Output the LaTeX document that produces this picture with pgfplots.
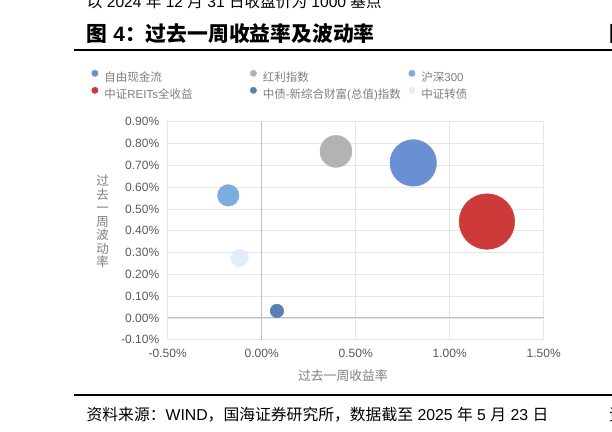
\documentclass[border=0pt]{standalone}
\usepackage{fontspec}
\usepackage{pgfplots}
\pgfplotsset{compat=1.18}
\setmainfont{Liberation Sans}
\newfontfamily\cjk{Noto Sans CJK SC}

\definecolor{cFCF}{HTML}{6B8FD3}
\definecolor{cDiv}{HTML}{B3B3B3}
\definecolor{cHS}{HTML}{7BAEDF}
\definecolor{cREIT}{HTML}{CD3A3A}
\definecolor{cBond}{HTML}{5781B0}
\definecolor{cCB}{HTML}{E2EDF8}
\definecolor{gridgray}{HTML}{E6E6E6}
\definecolor{zerogray}{HTML}{BFBFBF}
\definecolor{tickgray}{HTML}{595959}
\definecolor{labgray}{HTML}{7F7F7F}

% legend text box: fixed column width plus a strut
\newcommand{\legtxt}[2][145.6bp]{\makebox[#1][l]{\rule[-3bp]{0pt}{12bp}#2}}

\begin{document}
\begin{tikzpicture}
\useasboundingbox (0,0) rectangle (612bp,432bp);
\fill[white] (0,0) rectangle (612bp,432bp);
\clip (0,0) rectangle (612bp,432bp);

% page text above the chart
\node[anchor=base west,inner sep=0,font=\fontsize{15.6bp}{17bp}\selectfont] at (86.7bp,424bp)
  {{\cjk 以} 2024 {\cjk 年} 12 {\cjk 月} 31 {\cjk 日收盘价为} 1000 {\cjk 基点}};
\node[anchor=base west,inner sep=0,font=\fontsize{20.8bp}{22bp}\selectfont\bfseries] at (86.7bp,390.5bp)
  {{\cjk 图} 4{\cjk ：过去一周收益率及波动率}};
\node[anchor=base west,inner sep=0,font=\fontsize{20.8bp}{22bp}\selectfont\bfseries\cjk] at (609bp,390.5bp) {图};
\draw[line width=1.2bp] (74bp,382bp) -- (612bp,382bp);
\draw[line width=1.2bp] (74bp,37bp) -- (612bp,37bp);
\node[anchor=base west,inner sep=0,font=\fontsize{15.8bp}{17bp}\selectfont] at (86.4bp,11.5bp)
  {{\cjk 资料来源：}WIND{\cjk ，国海证券研究所，数据截至} 2025 {\cjk 年} 5 {\cjk 月} 23 {\cjk 日}};
\node[anchor=base west,inner sep=0,font=\fontsize{15.8bp}{17bp}\selectfont\cjk] at (609bp,11.5bp) {资};

\begin{axis}[
  at={(167.7bp,92.3bp)}, anchor=south west,
  scale only axis, width=376bp, height=218bp,
  xmin=-0.5, xmax=1.5, ymin=-0.1, ymax=0.9,
  xtick={-0.5,0,0.5,1,1.5},
  ytick={-0.1,0,0.1,0.2,0.3,0.4,0.5,0.6,0.7,0.8,0.9},
  xticklabel={\pgfmathprintnumber[fixed,fixed zerofill,precision=2]{\tick}\%},
  yticklabel={\pgfmathprintnumber[fixed,fixed zerofill,precision=2]{\tick}\%},
  /pgf/number format/assume math mode=true,
  ticklabel style={font=\fontsize{12bp}{13bp}\selectfont, text=tickgray},
  xticklabel style={yshift=-6bp},
  yticklabel style={xshift=-5bp},
  major tick length=0pt,
  tick style={draw=none},
  grid=major,
  grid style={draw=gridgray, line width=0.8bp},
  axis line style={draw=gridgray, line width=0.8bp},
  extra x ticks={0}, extra x tick labels={},
  extra y ticks={0}, extra y tick labels={},
  extra tick style={grid style={draw=zerogray, line width=0.9bp}},
  xlabel={\cjk 过去一周收益率},
  xlabel style={at={(axis description cs:0.466,-0.165)}, anchor=center,
    font=\fontsize{12.8bp}{13.5bp}\selectfont, text=labgray},
  ylabel={过\\去\\一\\周\\波\\动\\率},
  ylabel style={rotate=-90, at={(axis description cs:-0.173,0.542)}, anchor=center,
    align=center, font=\fontsize{12.5bp}{13.5bp}\selectfont\cjk, text=labgray},
  legend columns=3,
  legend image code/.code={\fill (3.2bp,4bp) circle (3.2bp);},
  legend style={draw=none, fill=none, at={(axis description cs:-0.2032,1.2385)},
    anchor=north west, inner sep=0pt, nodes={inner sep=0pt},
    font=\fontsize{11.5bp}{12.5bp}\selectfont, text=labgray,
    row sep=4bp,
    /tikz/every odd column/.style={column sep=6.1bp},
    /tikz/every even column/.style={column sep=0bp}},
  legend cell align=left,
]
% bubbles: (weekly return %, weekly volatility %), radius in bp
\addplot[only marks, mark=*, color=cFCF, mark size=23.3bp] coordinates {(0.806,0.711)};
\addlegendentry{\legtxt{\cjk 自由现金流}}
\addplot[only marks, mark=*, color=cDiv, mark size=16bp] coordinates {(0.395,0.764)};
\addlegendentry{\legtxt{\cjk 红利指数}}
\addplot[only marks, mark=*, color=cHS, mark size=10.8bp] coordinates {(-0.178,0.562)};
\addlegendentry{\legtxt[80bp]{{\cjk 沪深}300}}
\addplot[only marks, mark=*, color=cREIT, mark size=27.8bp] coordinates {(1.198,0.442)};
\addlegendentry{\legtxt{{\cjk 中证}REITs{\cjk 全收益}}}
\addplot[only marks, mark=*, color=cBond, mark size=6.8bp] coordinates {(0.081,0.032)};
\addlegendentry{\legtxt{{\cjk 中债}-{\cjk 新综合财富}({\cjk 总值}){\cjk 指数}}}
\addplot[only marks, mark=*, color=cCB, mark size=8.7bp] coordinates {(-0.117,0.275)};
\addlegendentry{\legtxt[80bp]{\cjk 中证转债}}
\end{axis}
\end{tikzpicture}
\end{document}
